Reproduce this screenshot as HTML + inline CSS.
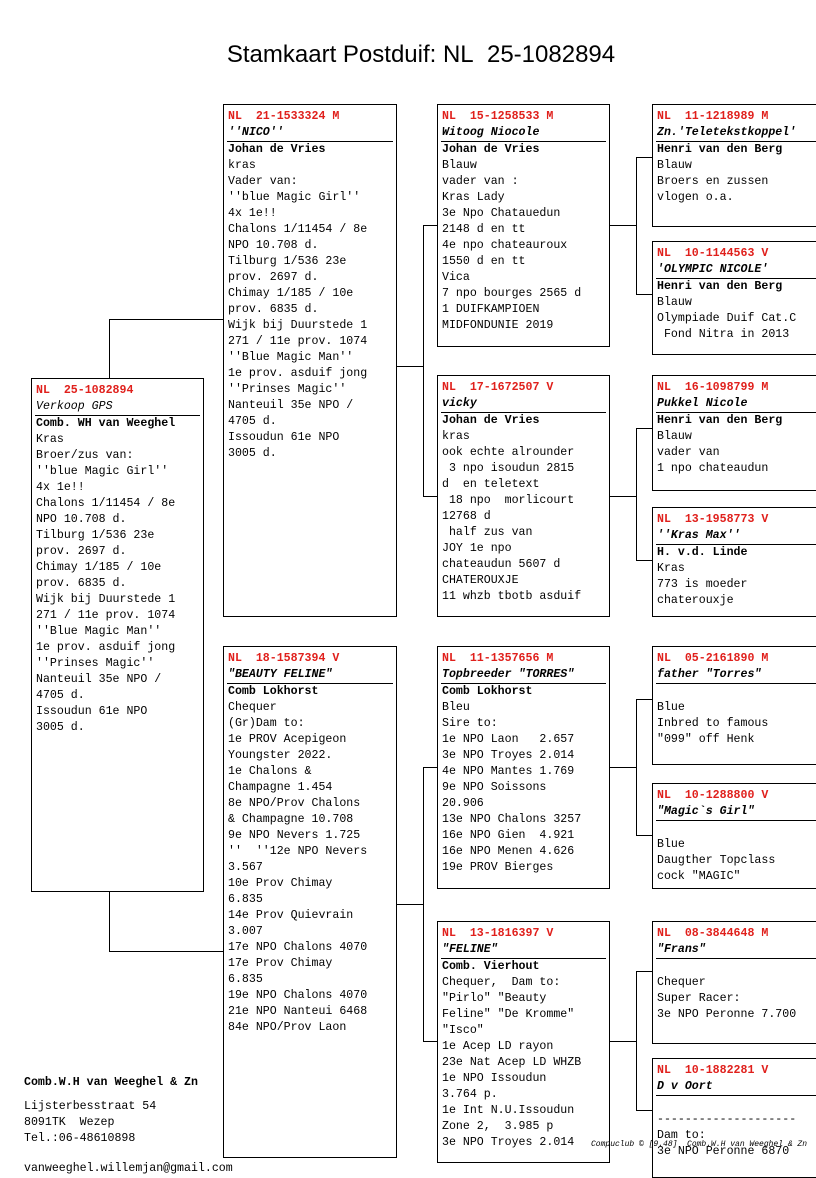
<!DOCTYPE html>
<html><head><meta charset="utf-8"><style>
body{margin:0;width:816px;height:1172px;overflow:hidden;background:#fff;position:relative;font-family:"Liberation Mono",monospace;}
.t{position:absolute;left:0;width:842px;top:41px;text-align:center;font:24px "Liberation Sans",sans-serif;color:#000;}
.b{position:absolute;border:1px solid #000;box-sizing:border-box;padding:4px 3px 0 3px;font-size:11.6px;line-height:16px;color:#000;white-space:pre;overflow:hidden;}
.r{color:#e0201c;font-weight:bold;padding-left:1px;}
.n{font-style:italic;font-weight:bold;border-bottom:1px solid #000;height:16px;padding-left:1px;}
.f{font-weight:bold;}
.x{padding-left:1px;}
.h{position:absolute;height:1px;background:#000;}
.v{position:absolute;width:1px;background:#000;}
.ft{position:absolute;font-size:11.6px;line-height:16px;white-space:pre;}
</style></head><body>
<div class="t">Stamkaart Postduif: NL&nbsp; 25-1082894</div>

<div class="h" style="left:109px;top:319px;width:114px"></div>
<div class="v" style="left:109px;top:319px;height:59px"></div>
<div class="v" style="left:109px;top:891px;height:61px"></div>
<div class="h" style="left:109px;top:951px;width:114px"></div>

<div class="h" style="left:396px;top:366px;width:27px"></div>
<div class="v" style="left:423px;top:225px;height:272px"></div>
<div class="h" style="left:423px;top:225px;width:14px"></div>
<div class="h" style="left:423px;top:496px;width:14px"></div>

<div class="h" style="left:396px;top:904px;width:27px"></div>
<div class="v" style="left:423px;top:767px;height:275px"></div>
<div class="h" style="left:423px;top:767px;width:14px"></div>
<div class="h" style="left:423px;top:1041px;width:14px"></div>

<div class="h" style="left:609px;top:225px;width:27px"></div>
<div class="v" style="left:636px;top:157px;height:138px"></div>
<div class="h" style="left:636px;top:157px;width:16px"></div>
<div class="h" style="left:636px;top:294px;width:16px"></div>

<div class="h" style="left:609px;top:496px;width:27px"></div>
<div class="v" style="left:636px;top:428px;height:133px"></div>
<div class="h" style="left:636px;top:428px;width:16px"></div>
<div class="h" style="left:636px;top:560px;width:16px"></div>

<div class="h" style="left:609px;top:767px;width:27px"></div>
<div class="v" style="left:636px;top:699px;height:137px"></div>
<div class="h" style="left:636px;top:699px;width:16px"></div>
<div class="h" style="left:636px;top:835px;width:16px"></div>

<div class="h" style="left:609px;top:1041px;width:27px"></div>
<div class="v" style="left:636px;top:971px;height:140px"></div>
<div class="h" style="left:636px;top:971px;width:16px"></div>
<div class="h" style="left:636px;top:1110px;width:16px"></div>

<div class="b" style="left:31px;top:378px;width:173px;height:514px"><div class="r">NL  25-1082894</div><div class="n" style="font-weight:normal">Verkoop GPS</div><div class="x"><span class="f">Comb. WH van Weeghel</span>
Kras
Broer/zus van:
''blue Magic Girl''
4x 1e!!
Chalons 1/11454 / 8e
NPO 10.708 d.
Tilburg 1/536 23e
prov. 2697 d.
Chimay 1/185 / 10e
prov. 6835 d.
Wijk bij Duurstede 1
271 / 11e prov. 1074
''Blue Magic Man''
1e prov. asduif jong
''Prinses Magic''
Nanteuil 35e NPO /
4705 d.
Issoudun 61e NPO
3005 d.</div></div>

<div class="b" style="left:223px;top:104px;width:174px;height:513px"><div class="r">NL  21-1533324 M</div><div class="n">''NICO''</div><div class="x"><span class="f">Johan de Vries</span>
kras
Vader van:
''blue Magic Girl''
4x 1e!!
Chalons 1/11454 / 8e
NPO 10.708 d.
Tilburg 1/536 23e
prov. 2697 d.
Chimay 1/185 / 10e
prov. 6835 d.
Wijk bij Duurstede 1
271 / 11e prov. 1074
''Blue Magic Man''
1e prov. asduif jong
''Prinses Magic''
Nanteuil 35e NPO /
4705 d.
Issoudun 61e NPO
3005 d.</div></div>

<div class="b" style="left:223px;top:646px;width:174px;height:512px"><div class="r">NL  18-1587394 V</div><div class="n">"BEAUTY FELINE"</div><div class="x"><span class="f">Comb Lokhorst</span>
Chequer
(Gr)Dam to:
1e PROV Acepigeon
Youngster 2022.
1e Chalons &amp;
Champagne 1.454
8e NPO/Prov Chalons
&amp; Champagne 10.708
9e NPO Nevers 1.725
''  ''12e NPO Nevers
3.567
10e Prov Chimay
6.835
14e Prov Quievrain
3.007
17e NPO Chalons 4070
17e Prov Chimay
6.835
19e NPO Chalons 4070
21e NPO Nanteui 6468
84e NPO/Prov Laon</div></div>

<div class="b" style="left:437px;top:104px;width:173px;height:243px"><div class="r">NL  15-1258533 M</div><div class="n">Witoog Niocole</div><div class="x"><span class="f">Johan de Vries</span>
Blauw
vader van :
Kras Lady
3e Npo Chatauedun
2148 d en tt
4e npo chateauroux
1550 d en tt
Vica
7 npo bourges 2565 d
1 DUIFKAMPIOEN
MIDFONDUNIE 2019</div></div>

<div class="b" style="left:437px;top:375px;width:173px;height:242px"><div class="r">NL  17-1672507 V</div><div class="n">vicky</div><div class="x"><span class="f">Johan de Vries</span>
kras
ook echte alrounder
 3 npo isoudun 2815
d  en teletext
 18 npo  morlicourt
12768 d
 half zus van
JOY 1e npo
chateaudun 5607 d
CHATEROUXJE
11 whzb tbotb asduif</div></div>

<div class="b" style="left:437px;top:646px;width:173px;height:243px"><div class="r">NL  11-1357656 M</div><div class="n">Topbreeder "TORRES"</div><div class="x"><span class="f">Comb Lokhorst</span>
Bleu
Sire to:
1e NPO Laon   2.657
3e NPO Troyes 2.014
4e NPO Mantes 1.769
9e NPO Soissons
20.906
13e NPO Chalons 3257
16e NPO Gien  4.921
16e NPO Menen 4.626
19e PROV Bierges</div></div>

<div class="b" style="left:437px;top:921px;width:173px;height:242px"><div class="r">NL  13-1816397 V</div><div class="n">"FELINE"</div><div class="x"><span class="f">Comb. Vierhout</span>
Chequer,  Dam to:
"Pirlo" "Beauty
Feline" "De Kromme"
"Isco"
1e Acep LD rayon
23e Nat Acep LD WHZB
1e NPO Issoudun
3.764 p.
1e Int N.U.Issoudun
Zone 2,  3.985 p
3e NPO Troyes 2.014</div></div>

<div class="b" style="left:652px;top:104px;width:170px;height:123px"><div class="r">NL  11-1218989 M</div><div class="n">Zn.'Teletekstkoppel'</div><div class="x"><span class="f">Henri van den Berg</span>
Blauw
Broers en zussen
vlogen o.a.</div></div>

<div class="b" style="left:652px;top:241px;width:170px;height:114px"><div class="r">NL  10-1144563 V</div><div class="n">'OLYMPIC NICOLE'</div><div class="x"><span class="f">Henri van den Berg</span>
Blauw
Olympiade Duif Cat.C
 Fond Nitra in 2013</div></div>

<div class="b" style="left:652px;top:375px;width:170px;height:116px"><div class="r">NL  16-1098799 M</div><div class="n">Pukkel Nicole</div><div class="x"><span class="f">Henri van den Berg</span>
Blauw
vader van
1 npo chateaudun</div></div>

<div class="b" style="left:652px;top:507px;width:170px;height:110px"><div class="r">NL  13-1958773 V</div><div class="n">''Kras Max''</div><div class="x"><span class="f">H. v.d. Linde</span>
Kras
773 is moeder
chaterouxje</div></div>

<div class="b" style="left:652px;top:646px;width:170px;height:119px"><div class="r">NL  05-2161890 M</div><div class="n">father "Torres"</div><div class="x">
Blue
Inbred to famous
"099" off Henk</div></div>

<div class="b" style="left:652px;top:783px;width:170px;height:106px"><div class="r">NL  10-1288800 V</div><div class="n">"Magic`s Girl"</div><div class="x">
Blue
Daugther Topclass
cock "MAGIC"</div></div>

<div class="b" style="left:652px;top:921px;width:170px;height:123px"><div class="r">NL  08-3844648 M</div><div class="n">"Frans"</div><div class="x">
Chequer
Super Racer:
3e NPO Peronne 7.700</div></div>

<div class="b" style="left:652px;top:1058px;width:170px;height:120px"><div class="r">NL  10-1882281 V</div><div class="n">D v Oort</div><div class="x">
--------------------
Dam to:
3e NPO Peronne 6870</div></div>

<div style="position:absolute;left:591px;top:1140px;font-size:8px;font-style:italic;white-space:pre;line-height:10px">Compuclub © [9.48]  Comb.W.H van Weeghel &amp; Zn</div>

<div class="ft" style="left:24px;top:1075px;font-weight:bold">Comb.W.H van Weeghel &amp; Zn</div>
<div class="ft" style="left:24px;top:1099px">Lijsterbesstraat 54
8091TK  Wezep
Tel.:06-48610898</div>
<div class="ft" style="left:24px;top:1161px">vanweeghel.willemjan@gmail.com</div>
</body></html>
